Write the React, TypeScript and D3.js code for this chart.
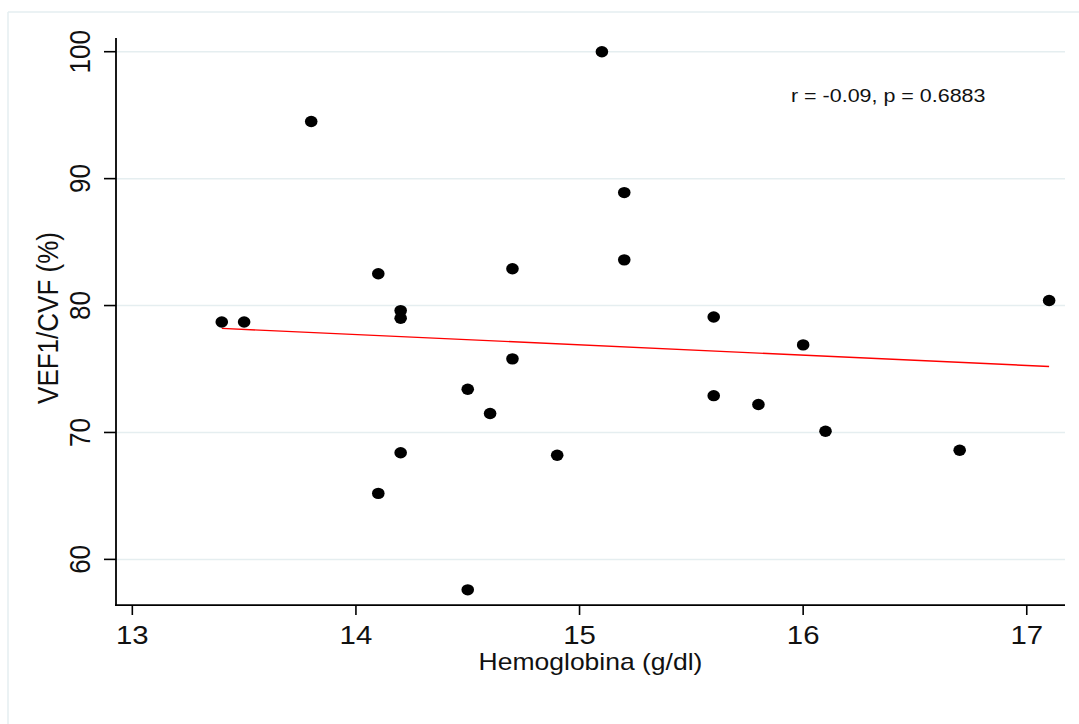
import React from "react";
import * as d3 from "d3";

const hemoglobina: number[] = [13.4, 13.5, 13.8, 14.1, 14.2, 14.2, 14.1, 14.2, 14.5, 14.6, 14.5, 14.7, 14.7, 14.9, 15.1, 15.2, 15.2, 15.6, 15.6, 15.8, 16.0, 16.1, 16.7, 17.1];
const vef1cvf: number[] = [78.7, 78.7, 94.5, 82.5, 79.6, 79.0, 65.2, 68.4, 73.4, 71.5, 57.6, 82.9, 75.8, 68.2, 100.0, 88.9, 83.6, 79.1, 72.9, 72.2, 76.9, 70.1, 68.6, 80.4];
const fitX: number[] = [13.4, 17.1];
const fitY: number[] = [78.2, 75.2];
const xTicks: number[] = [13, 14, 15, 16, 17];
const yTicks: number[] = [60, 70, 80, 90, 100];
const xTitle = "Hemoglobina (g/dl)";
const yTitle = "VEF1/CVF (%)";
const annotation = "r = -0.09, p = 0.6883";

const W = 1079;
const H = 724;
const SX = 1.13;
const FONT = "'Liberation Sans', Arial, sans-serif";

export default function App() {
  const x = d3.scaleLinear().domain([12.927, 17.171]).range([116, 1065]);
  const y = d3.scaleLinear().domain([56.39, 101.08]).range([605.2, 38]);
  const line = d3
    .line<number>()
    .x((_, i) => x(fitX[i]))
    .y((d) => y(d));
  const gridColor = "#e5eef0";
  return (
    <svg
      width={W}
      height={H}
      style={{ position: "absolute", left: 0, top: 0, display: "block", background: "#fff" }}
      fontFamily={FONT}
    >
      <rect x={0} y={0} width={W} height={H} fill="#fff" />
      {/* outer frame */}
      <line x1={8} y1={12} x2={W} y2={12} stroke={gridColor} strokeWidth={1.5} />
      <line x1={8} y1={12} x2={8} y2={H} stroke={gridColor} strokeWidth={1.5} />
      {/* grid */}
      {yTicks.map((t) => (
        <line key={"g" + t} x1={116} x2={1065} y1={y(t)} y2={y(t)} stroke={gridColor} strokeWidth={1.5} />
      ))}
      {/* fit line */}
      <path d={line(fitY) || ""} fill="none" stroke="#ff0000" strokeWidth={1.4} />
      {/* points */}
      {hemoglobina.map((h, i) => (
        <ellipse key={"p" + i} cx={x(h)} cy={y(vef1cvf[i])} rx={6.3} ry={5.7} fill="#000" />
      ))}
      {/* axes */}
      <line x1={116} x2={116} y1={38} y2={605.2} stroke="#000" strokeWidth={1.8} />
      <line x1={115} x2={1065} y1={605.2} y2={605.2} stroke="#000" strokeWidth={1.8} />
      {xTicks.map((t) => (
        <g key={"xt" + t}>
          <line x1={x(t)} x2={x(t)} y1={605.2} y2={615} stroke="#000" strokeWidth={1.6} />
          <text
            transform={`translate(${x(t)},644) scale(${SX},1)`}
            textAnchor="middle"
            fontSize={26}
            fill="#111"
          >
            {t}
          </text>
        </g>
      ))}
      {yTicks.map((t) => (
        <g key={"yt" + t}>
          <line x1={104} x2={116} y1={y(t)} y2={y(t)} stroke="#000" strokeWidth={1.6} />
          <text
            transform={`translate(90,${y(t)}) scale(${SX},1) rotate(-90)`}
            textAnchor="middle"
            fontSize={26}
            fill="#111"
          >
            {t}
          </text>
        </g>
      ))}
      <text transform={`translate(590.5,670) scale(${SX * 1.02},1)`} textAnchor="middle" fontSize={23} fill="#111">
        {xTitle}
      </text>
      <text transform={`translate(58,318) scale(${SX},1) rotate(-90)`} textAnchor="middle" fontSize={26} fill="#111">
        {yTitle}
      </text>
      <text transform={`translate(791,101.7) scale(${SX},1)`} textAnchor="start" fontSize={19} fill="#111">
        {annotation}
      </text>
    </svg>
  );
}
